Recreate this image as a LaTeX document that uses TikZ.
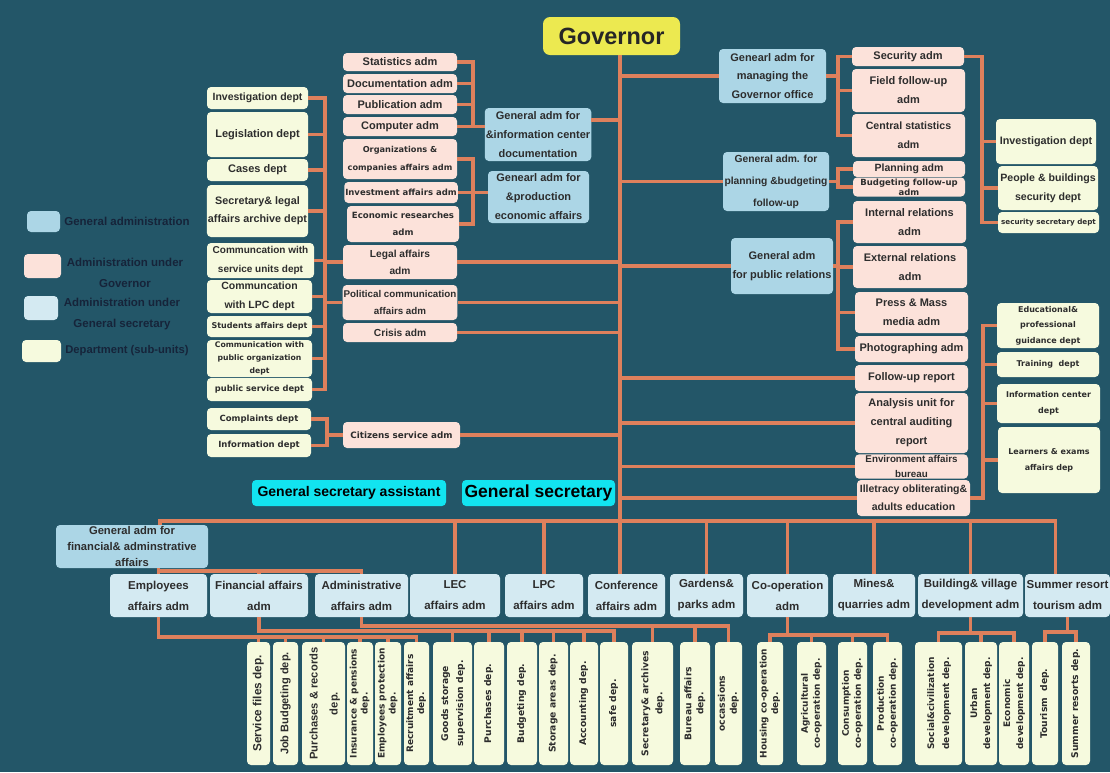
\documentclass[tikz,border=0pt]{standalone}
\usepackage{fontspec}
\setmainfont{Liberation Sans}
\newfontfamily\widefont{DejaVu Sans}
\usepackage{graphicx}
\usetikzlibrary{positioning}
\definecolor{bgteal}{RGB}{35,86,104}
\definecolor{linkc}{RGB}{222,128,92}
\definecolor{genblue}{RGB}{172,214,230}
\definecolor{admpink}{RGB}{252,226,218}
\definecolor{secblue}{RGB}{212,234,242}
\definecolor{depyellow}{RGB}{246,250,222}
\definecolor{govyellow}{RGB}{236,233,80}
\definecolor{gscyan}{RGB}{18,228,240}
\definecolor{txtc}{RGB}{45,45,45}
\definecolor{legtxtc}{RGB}{22,36,58}
\tikzset{
box/.style={rounded corners=4pt,align=center,inner sep=1pt,text=txtc},
gen/.style={box,fill=genblue},
adm/.style={box,fill=admpink},
sec/.style={box,fill=secblue},
dep/.style={box,fill=depyellow},
govbox/.style={box,fill=govyellow,rounded corners=7pt,text=black!85},
gsec/.style={box,fill=gscyan,text={RGB:red,25;green,45;blue,60}},
vdep/.style={rounded corners=4pt,inner sep=0pt,fill=depyellow,text=txtc},
legtxt/.style={align=center,inner sep=0pt,text=legtxtc,font=\bfseries\fontsize{11.5}{21}\selectfont},
sz/.style 2 args={minimum width=#1,minimum height=#2},
fa/.style 2 args={font=\bfseries\fontsize{#1}{#2}\selectfont},
fw/.style 2 args={font=\widefont\bfseries\fontsize{#1}{#2}\selectfont},
link/.style={draw=linkc,line width=3.2pt}
}
\newcommand{\vtext}[1]{\rotatebox{90}{\begin{tabular}{@{}c@{}}#1\end{tabular}}}
\begin{document}
\begin{tikzpicture}[x=1pt,y=-1pt]
\useasboundingbox (0,0) rectangle (1110,772);
\fill[bgteal] (0,0) rectangle (1110,772);
\node[govbox,sz={137}{38},fa={23.5}{28}] (gov) at (611.5,36) {Governor};
\node[adm,sz={114}{18},fa={11}{19}] (stat) at (400,62) {Statistics adm};
\node[adm,sz={114}{19},fa={11}{19}] (docu) at (400,83.5) {Documentation adm};
\node[adm,sz={114}{19},fa={11}{19}] (publ) at (400,104.5) {Publication adm};
\node[adm,sz={114}{19},fa={11}{19}] (comp) at (400,126.5) {Computer adm};
\node[adm,sz={114}{40},fw={8.2}{18}] (orgs) at (400,159) {Organizations \&\\companies affairs adm};
\node[adm,sz={112}{21},fw={8.5}{12}] (inve) at (401,192.5) {Investment affairs adm};
\node[adm,sz={112}{36},fw={8.6}{17}] (econ) at (403,224) {Economic researches\\adm};
\node[adm,sz={114}{34},fa={10.2}{17}] (legal) at (400,262) {Legal affairs\\adm};
\node[adm,sz={114}{35},fa={9.8}{17}] (poli) at (400,302.5) {Political communication\\affairs adm};
\node[adm,sz={114}{19},fa={10.2}{17}] (cris) at (400,332.5) {Crisis adm};
\node[adm,sz={117}{26},fw={8.8}{12}] (citz) at (401.5,435) {Citizens service adm};
\node[gen,sz={102}{53},fa={11}{19}] (infoc) at (538,134.5) {General adm for\\\&information center\\documentation};
\node[gen,sz={101}{52},fa={11}{19}] (prodc) at (538.5,197) {Genearl adm for\\\&production\\economic affairs};
\node[gen,sz={107}{54},fa={11}{18.5}] (mgov) at (772.5,76) {Genearl adm for\\managing the\\Governor office};
\node[gen,sz={106}{59},fa={10.3}{22}] (plan) at (776,181.5) {General adm. for\\planning \&budgeting\\follow-up};
\node[gen,sz={102}{56},fa={11}{19}] (pubr) at (782,266) {General adm\\for public relations};
\node[adm,sz={112}{19},fa={11}{19}] (secu) at (908,56.5) {Security adm};
\node[adm,sz={113}{43},fa={11}{19}] (field) at (908.5,90.5) {Field follow-up\\adm};
\node[adm,sz={113}{43},fa={10.6}{19}] (cstat) at (908.5,135.5) {Central statistics\\adm};
\node[adm,sz={112}{16},fa={10.5}{12}] (plana) at (909,169) {Planning adm};
\node[adm,sz={112}{19},fw={8.5}{10}] (budg) at (909,187) {Budgeting follow-up\\adm};
\node[adm,sz={113}{42},fa={11}{19}] (intr) at (909.5,222) {Internal relations\\adm};
\node[adm,sz={114}{42},fa={11}{19}] (extr) at (910,267) {External relations\\adm};
\node[adm,sz={113}{41},fa={11}{19}] (press) at (911.5,312.5) {Press \& Mass\\media adm};
\node[adm,sz={113}{26},fa={11}{19}] (photo) at (911.5,349) {Photographing adm};
\node[adm,sz={113}{26},fa={11}{19}] (follow) at (911.5,378) {Follow-up report};
\node[adm,sz={113}{60},fa={11}{19}] (analy) at (911.5,423) {Analysis unit for\\central auditing\\report};
\node[adm,sz={113}{36},fa={10.5}{18}] (illit) at (913.5,498) {Illetracy obliterating\&\\adults education};
\node[adm,sz={113}{23},fa={9.8}{15}] (envir) at (911.5,466.5) {Environment affairs\\bureau};
\node[dep,sz={100}{45},fa={10.8}{19}] (rinv) at (1046,141.5) {Investigation dept};
\node[dep,sz={100}{44},fa={10.6}{19}] (rpeop) at (1048,188) {People \& buildings\\security dept};
\node[dep,sz={101}{21},fw={7.2}{10}] (rsecs) at (1048.5,222.5) {security secretary dept};
\node[dep,sz={102}{45},fw={8}{15.5}] (educ) at (1048,325.5) {Educational\&\\professional\\guidance dept};
\node[dep,sz={102}{25},fw={8}{10}] (train) at (1048,364.5) {Training\ \ dept};
\node[dep,sz={103}{39},fw={8}{16}] (infcd) at (1048.5,403.5) {Information center\\dept};
\node[dep,sz={102}{66},fw={8}{16}] (learn) at (1049,460) {Learners \& exams\\affairs dep};
\node[dep,sz={101}{22},fa={10.5}{19}] (linv) at (257.5,98) {Investigation dept};
\node[dep,sz={101}{45},fa={11}{19}] (legis) at (257.5,134.5) {Legislation dept};
\node[dep,sz={101}{22},fa={11}{19}] (cases) at (257.5,170) {Cases dept};
\node[dep,sz={101}{52},fa={10.8}{18}] (secl) at (257.5,211) {Secretary\& legal\\affairs archive dept};
\node[dep,sz={107}{35},fa={10}{19}] (csrv) at (260.5,260.5) {Communcation with\\service units dept};
\node[dep,sz={105}{33},fa={10.5}{19}] (clpc) at (259.5,296.5) {Communcation\\with LPC dept};
\node[dep,sz={105}{21},fw={8}{10}] (stud) at (259.5,326.5) {Students affairs dept};
\node[dep,sz={105}{37},fw={7.7}{13}] (cpub) at (259.5,358.5) {Communication with\\public organization\\dept};
\node[dep,sz={105}{23},fw={8.3}{10}] (psrv) at (259.5,389.5) {public service dept};
\node[dep,sz={104}{22},fw={8.5}{10}] (compl) at (259,419) {Complaints dept};
\node[dep,sz={104}{23},fw={8.5}{10}] (infod) at (259,445.5) {Information dept};
\node[gen,sz={33}{21}] (lgA) at (43.5,221.5) {};
\node[adm,sz={37}{24}] (lgB) at (42.5,266) {};
\node[sec,sz={34}{24}] (lgC) at (41,308) {};
\node[dep,sz={39}{22}] (lgD) at (41.5,351) {};
\node[legtxt] (lgAt) at (127,221.5) {General administration};
\node[legtxt] (lgBt) at (125,272.5) {Administration under\\Governor};
\node[legtxt] (lgCt) at (122,314) {Administration under\\General secretary};
\node[legtxt,font=\bfseries\fontsize{11.2}{21}\selectfont] (lgDt) at (127,351) {Department (sub-units)};
\node[gsec,sz={194}{26},fa={14}{16}] (gsa) at (349,493) {General secretary assistant};
\node[gsec,sz={153}{26},fa={17.5}{20}] (gs) at (538.5,493) {General secretary};
\node[gen,sz={152}{43},fa={11.2}{16}] (finad) at (132,546.5) {General adm for\\financial\& adminstrative\\affairs};
\node[sec,sz={97}{43},fa={11.5}{21}] (empl) at (158.5,595.5) {Employees\\affairs adm};
\node[sec,sz={98}{43},fa={11.5}{21}] (fina) at (259,595.5) {Financial affairs\\adm};
\node[sec,sz={93}{43},fa={11.5}{21}] (admi) at (361.5,595.5) {Administrative\\affairs adm};
\node[sec,sz={90}{43},fa={11.5}{21}] (lec) at (455,595.5) {LEC\\affairs adm};
\node[sec,sz={78}{43},fa={11.5}{21}] (lpc) at (544,595.5) {LPC\\affairs adm};
\node[sec,sz={77}{43},fa={11.5}{21}] (conf) at (626.5,595.5) {Conference\\affairs adm};
\node[sec,sz={73}{43},fa={11.5}{21}] (gard) at (706.5,595.5) {Gardens\&\\parks adm};
\node[sec,sz={81}{43},fa={11.5}{21}] (coop) at (787.5,595.5) {Co-operation\\adm};
\node[sec,sz={82}{43},fa={11.5}{21}] (mine) at (874,595.5) {Mines\&\\quarries adm};
\node[sec,sz={105}{43},fa={11.5}{21}] (buil) at (970.5,595.5) {Building\& village\\development adm};
\node[sec,sz={85}{43},fa={11.5}{21}] (summ) at (1067.5,595.5) {Summer resort\\tourism adm};
\node[vdep,sz={23}{123},fa={11.8}{14}] (sfile) at (258.5,703.5) {\vtext{Service files dep.}};
\node[vdep,sz={25}{123},fa={11}{14}] (jbud) at (285.5,703.5) {\vtext{Job Budgeting dep.}};
\node[vdep,sz={43}{123},fa={11.2}{20}] (purr) at (323.5,703.5) {\vtext{Purchases \& records\\dep.}};
\node[vdep,sz={26}{123},fw={9}{11}] (insu) at (360,703.5) {\vtext{Insurance \& pensions\\dep.}};
\node[vdep,sz={26}{123},fw={9}{11}] (eprot) at (388,703.5) {\vtext{Employees protection\\dep.}};
\node[vdep,sz={25}{123},fw={9}{11}] (recr) at (416.5,703.5) {\vtext{Recruitment affairs\\dep.}};
\node[vdep,sz={39}{123},fw={9.2}{15}] (goods) at (452.5,703.5) {\vtext{Goods storage\\supervision dep.}};
\node[vdep,sz={30}{123},fw={9.2}{11}] (purc) at (489,703.5) {\vtext{Purchases dep.}};
\node[vdep,sz={30}{123},fw={9.2}{11}] (budd) at (522,703.5) {\vtext{Budgeting dep.}};
\node[vdep,sz={29}{123},fw={9.2}{11}] (stor) at (553.5,703.5) {\vtext{Storage areas dep.}};
\node[vdep,sz={28}{123},fw={9.2}{11}] (acco) at (584,703.5) {\vtext{Accounting dep.}};
\node[vdep,sz={28}{123},fw={9.2}{11}] (safe) at (614,703.5) {\vtext{safe dep.}};
\node[vdep,sz={41}{123},fw={9.2}{14}] (secar) at (652.5,703.5) {\vtext{Secretary\& archives\\dep.}};
\node[vdep,sz={30}{123},fw={9.2}{12}] (burea) at (695,703.5) {\vtext{Bureau affairs\\dep.}};
\node[vdep,sz={27}{123},fw={9.2}{12}] (occas) at (728.5,703.5) {\vtext{occassions\\dep.}};
\node[vdep,sz={26}{123},fw={9}{11.5}] (hous) at (770,703.5) {\vtext{Housing co-operation\\dep.}};
\node[vdep,sz={29}{123},fw={9}{12}] (agri) at (811.5,703.5) {\vtext{Agricultural\\co-operation dep.}};
\node[vdep,sz={29}{123},fw={9}{12}] (cons) at (852.5,703.5) {\vtext{Consumption\\co-operation dep.}};
\node[vdep,sz={29}{123},fw={9}{12}] (prod) at (887.5,703.5) {\vtext{Production\\co-operation dep.}};
\node[vdep,sz={47}{123},fw={9}{15}] (soci) at (938.5,703.5) {\vtext{Social\&civilization\\development dep.}};
\node[vdep,sz={32}{123},fw={9}{13}] (urba) at (981,703.5) {\vtext{Urban\\development dep.}};
\node[vdep,sz={30}{123},fw={9}{13}] (econd) at (1014,703.5) {\vtext{Economic\\development dep.}};
\node[vdep,sz={26}{123},fw={9.2}{11}] (tour) at (1045,703.5) {\vtext{Tourism\ \ dep.}};
\node[vdep,sz={28}{123},fw={9.2}{11}] (sres) at (1076,703.5) {\vtext{Summer resorts dep.}};
\coordinate (tk) at (620,0);
\coordinate (cA) at (473,0);
\coordinate (cB) at (838,0);
\coordinate (cC) at (982,0);
\coordinate (cD) at (983,0);
\coordinate (cE) at (325,0);
\coordinate (cF) at (327,0);
\coordinate (bus) at (0,521);
\coordinate (lvG) at (0,571);
\coordinate (lvE) at (0,637);
\coordinate (lvF) at (0,631);
\coordinate (lvA) at (0,626);
\coordinate (lvC) at (0,635);
\coordinate (lvB) at (0,633);
\coordinate (lvS) at (0,632);
\coordinate (fintop) at ([xshift=28]finad.north);
\coordinate (sumtop) at ([xshift=-12]summ.north);
\draw[link] (gov.south -| tk) -- (tk |- conf.north);
\draw[link] (infoc.east |- 0,120) -- (tk |- 0,120);
\draw[link] (tk |- mgov.west) -- (mgov.west);
\draw[link] (tk |- plan.west) -- (plan.west);
\draw[link] (tk |- pubr.west) -- (pubr.west);
\foreach \n in {follow,analy,envir,illit} \draw[link] (tk |- \n.west) -- (\n.west);
\foreach \n in {legal,poli,cris,citz} \draw[link] (\n.east) -- (\n.east -| tk);
\draw[link] (stat.east) -| (cA |- comp.east) -- (comp.east -| infoc.west);
\foreach \n in {docu,publ,comp} \draw[link] (\n.east) -- (\n.east -| cA);
\draw[link] (orgs.east) -| (cA |- econ.east) -- (econ.east);
\draw[link] (inve.east) -- (inve.east -| prodc.west);
\draw[link] (secu.west) -| (cB |- cstat.west) -- (cstat.west);
\draw[link] (field.west) -- (field.west -| cB);
\draw[link] (mgov.east) -- (mgov.east -| cB);
\draw[link] (plana.west) -| (cB |- budg.west) -- (budg.west);
\draw[link] (plan.east) -- (plan.east -| cB);
\draw[link] (intr.west) -| (cB |- photo.west) -- (photo.west);
\foreach \n in {extr,press} \draw[link] (\n.west) -- (\n.west -| cB);
\draw[link] (pubr.east) -- (pubr.east -| cB);
\draw[link] (secu.east) -| (cC |- rsecs.west) -- (rsecs.west);
\foreach \n in {rinv,rpeop} \draw[link] (\n.west) -- (\n.west -| cC);
\draw[link] (illit.east) -| (cD |- educ.west) -- (educ.west);
\foreach \n in {train,infcd,learn} \draw[link] (\n.west) -- (\n.west -| cD);
\draw[link] (linv.east) -| (cE |- psrv.east) -- (psrv.east);
\foreach \n in {legis,cases,secl,csrv,clpc,stud,cpub} \draw[link] (\n.east) -- (\n.east -| cE);
\draw[link] (cE |- legal.west) -- (legal.west);
\draw[link] (cE |- poli.west) -- (poli.west);
\draw[link] (compl.east) -| (cF |- infod.east) -- (infod.east);
\draw[link] (cF |- citz.west) -- (citz.west);
\draw[link] (fintop) |- (sumtop |- bus) -- (sumtop);
\foreach \n in {lec,lpc,gard,coop,mine,buil} \draw[link] (\n.north) -- (\n.north |- bus);
\draw[link] (empl.north) -- (empl.north |- finad.south);
\draw[link] (empl.north |- lvG) -| (admi.north);
\draw[link] (fina.north) -- (fina.north |- lvG);
\draw[link] (empl.south) |- (lvE -| recr.north) -- (recr.north);
\foreach \d in {sfile,jbud,purr,insu,eprot} \draw[link] (\d.north) -- (\d.north |- lvE);
\draw[link] (fina.south) |- (lvF -| safe.north) -- (safe.north);
\foreach \d in {goods,purc,budd,stor,acco} \draw[link] (\d.north) -- (\d.north |- lvF);
\draw[link] (admi.south) |- (lvA -| occas.north) -- (occas.north);
\foreach \d in {secar,burea} \draw[link] (\d.north) -- (\d.north |- lvA);
\draw[link] (coop.south) -- (coop.south |- lvC);
\draw[link] (hous.north) |- (lvC -| prod.north) -- (prod.north);
\foreach \d in {agri,cons} \draw[link] (\d.north) -- (\d.north |- lvC);
\draw[link] (buil.south) -- (buil.south |- lvB);
\draw[link] (soci.north) |- (lvB -| econd.north) -- (econd.north);
\draw[link] (urba.north) -- (urba.north |- lvB);
\draw[link] (summ.south) -- (summ.south |- lvS);
\draw[link] (tour.north) |- (lvS -| sres.north) -- (sres.north);
\end{tikzpicture}
\end{document}
